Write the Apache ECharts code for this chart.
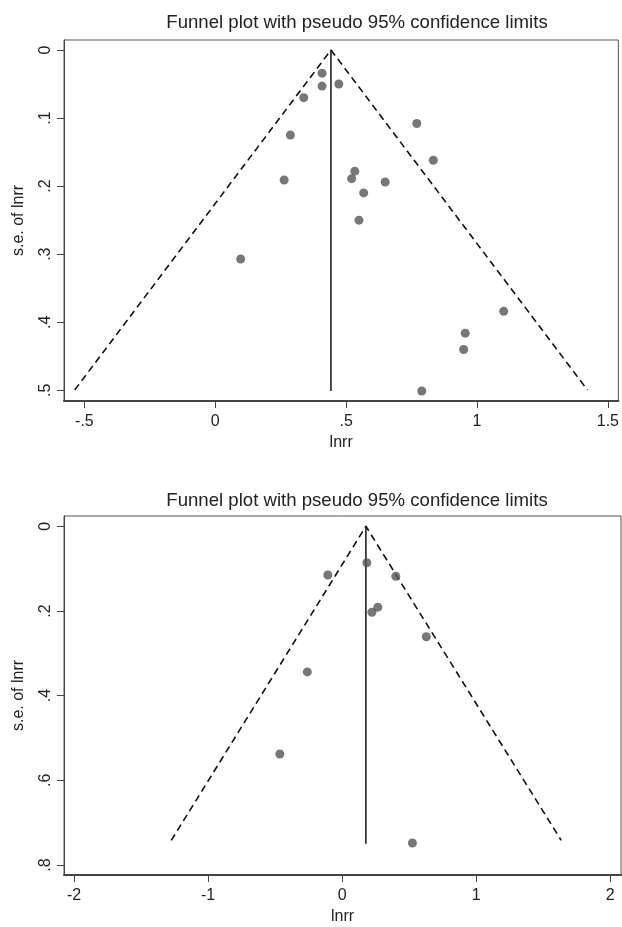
<!DOCTYPE html>
<html>
<head>
<meta charset="utf-8">
<script src="https://cdn.jsdelivr.net/npm/echarts@6/dist/echarts.min.js"></script>
<style>
  html, body { margin: 0; padding: 0; background: #fff; }
  #chart { width: 622px; height: 927px; }
</style>
</head>
<body>
<div id="chart"></div>
<script>
// top panel: studies (lnrr, s.e. of lnrr)
const lnrrTop = [0.408, 0.408, 0.472, 0.338, 0.287, 0.263, 0.097, 0.770, 0.833, 0.533,
                 0.521, 0.649, 0.567, 0.549, 1.102, 0.955, 0.949, 0.789];
const seTop = [0.034, 0.053, 0.050, 0.070, 0.125, 0.191, 0.307, 0.108, 0.162, 0.178,
               0.189, 0.194, 0.210, 0.250, 0.384, 0.416, 0.440, 0.501];
// funnel: left end, apex, right end
const funnelTopX = [-0.537, 0.442, 1.422];
const funnelTopY = [0.4995, 0, 0.4995];
const centerTopX = [0.442, 0.442];
const centerTopY = [0, 0.501];
const xTicksTop = [-0.5, 0, 0.5, 1, 1.5];
const yTicksTop = [0, 0.1, 0.2, 0.3, 0.4, 0.5];

// bottom panel
const lnrrBottom = [0.184, -0.107, 0.400, 0.266, 0.222, 0.628, -0.260, -0.465, 0.524];
const seBottom = [0.086, 0.115, 0.118, 0.191, 0.203, 0.261, 0.344, 0.538, 0.748];
const funnelBottomX = [-1.275, 0.177, 1.634];
const funnelBottomY = [0.742, 0, 0.742];
const centerBottomX = [0.177, 0.177];
const centerBottomY = [0, 0.75];
const xTicksBottom = [-2, -1, 0, 1, 2];
const yTicksBottom = [0, 0.2, 0.4, 0.6, 0.8];

const titleText = "Funnel plot with pseudo 95% confidence limits";
const FONT = "Liberation Sans";

const chart = echarts.init(document.getElementById("chart"), null, { renderer: "canvas" });

function fmt(v) {
  return String(+v.toFixed(2)).replace(/^(-?)0\./, "$1.");
}
function pairs(xs, ys) {
  return xs.map((x, i) => [x, ys[i]]);
}

function xAxis(idx, min, max, ticks) {
  return {
    type: "value",
    gridIndex: idx,
    min: min,
    max: max,
    name: "lnrr",
    nameLocation: "middle",
    nameGap: 34,
    nameTextStyle: { fontFamily: FONT, fontSize: 16, color: "#222" },
    axisLine: { show: true, onZero: false, lineStyle: { color: "#444", width: 2 } },
    axisTick: { show: true, customValues: ticks, length: 7, lineStyle: { color: "#444", width: 1 } },
    axisLabel: { customValues: ticks, formatter: fmt, margin: 13,
                 fontFamily: FONT, fontSize: 16, color: "#222" },
    splitLine: { show: false },
  };
}

function yAxis(idx, min, max, ticks) {
  return {
    type: "value",
    gridIndex: idx,
    inverse: true,
    min: min,
    max: max,
    name: "s.e. of lnrr",
    nameLocation: "middle",
    nameRotate: 90,
    nameGap: 37,
    nameTextStyle: { fontFamily: FONT, fontSize: 16, color: "#222" },
    axisLine: { show: true, onZero: false, lineStyle: { color: "#444", width: 1 } },
    axisTick: { show: true, customValues: ticks, length: 7, lineStyle: { color: "#444", width: 1 } },
    axisLabel: { customValues: ticks, formatter: fmt, rotate: 90, margin: 10,
                 fontFamily: FONT, fontSize: 16, color: "#222" },
    splitLine: { show: false },
  };
}

function panelSeries(idx, xs, ys, fx, fy, cx, cy) {
  return [
    {
      type: "line",
      xAxisIndex: idx, yAxisIndex: idx,
      data: pairs(fx, fy),
      symbol: "none",
      silent: true,
      lineStyle: { color: "#111", width: 1.6, type: [7, 4.5] },
      z: 2,
    },
    {
      type: "line",
      xAxisIndex: idx, yAxisIndex: idx,
      data: pairs(cx, cy),
      symbol: "none",
      silent: true,
      lineStyle: { color: "#111", width: 1.5 },
      z: 2,
    },
    {
      type: "scatter",
      xAxisIndex: idx, yAxisIndex: idx,
      data: pairs(xs, ys),
      symbolSize: 9,
      itemStyle: { color: "#555" },
      z: 3,
    },
  ];
}

const option = {
  animation: false,
  backgroundColor: "#fff",
  title: [
    { text: titleText, left: 352, top: 8, textAlign: "center",
      textStyle: { fontFamily: FONT, fontSize: 18.6, fontWeight: "normal", color: "#222" } },
    { text: titleText, left: 352, top: 486, textAlign: "center",
      textStyle: { fontFamily: FONT, fontSize: 18.6, fontWeight: "normal", color: "#222" } },
  ],
  grid: [
    { left: 64, top: 40, width: 557, height: 361, show: true, borderColor: "#555", borderWidth: 1 },
    { left: 64, top: 516, width: 557, height: 359, show: true, borderColor: "#555", borderWidth: 1 },
  ],
  xAxis: [
    xAxis(0, -0.578, 1.54, xTicksTop),
    xAxis(1, -2.075, 2.08, xTicksBottom),
  ],
  yAxis: [
    yAxis(0, -0.0147, 0.5157, yTicksTop),
    yAxis(1, -0.0243, 0.8237, yTicksBottom),
  ],
  series: [
    ...panelSeries(0, lnrrTop, seTop, funnelTopX, funnelTopY, centerTopX, centerTopY),
    ...panelSeries(1, lnrrBottom, seBottom, funnelBottomX, funnelBottomY, centerBottomX, centerBottomY),
  ],
};

chart.setOption(option);
</script>
</body>
</html>
